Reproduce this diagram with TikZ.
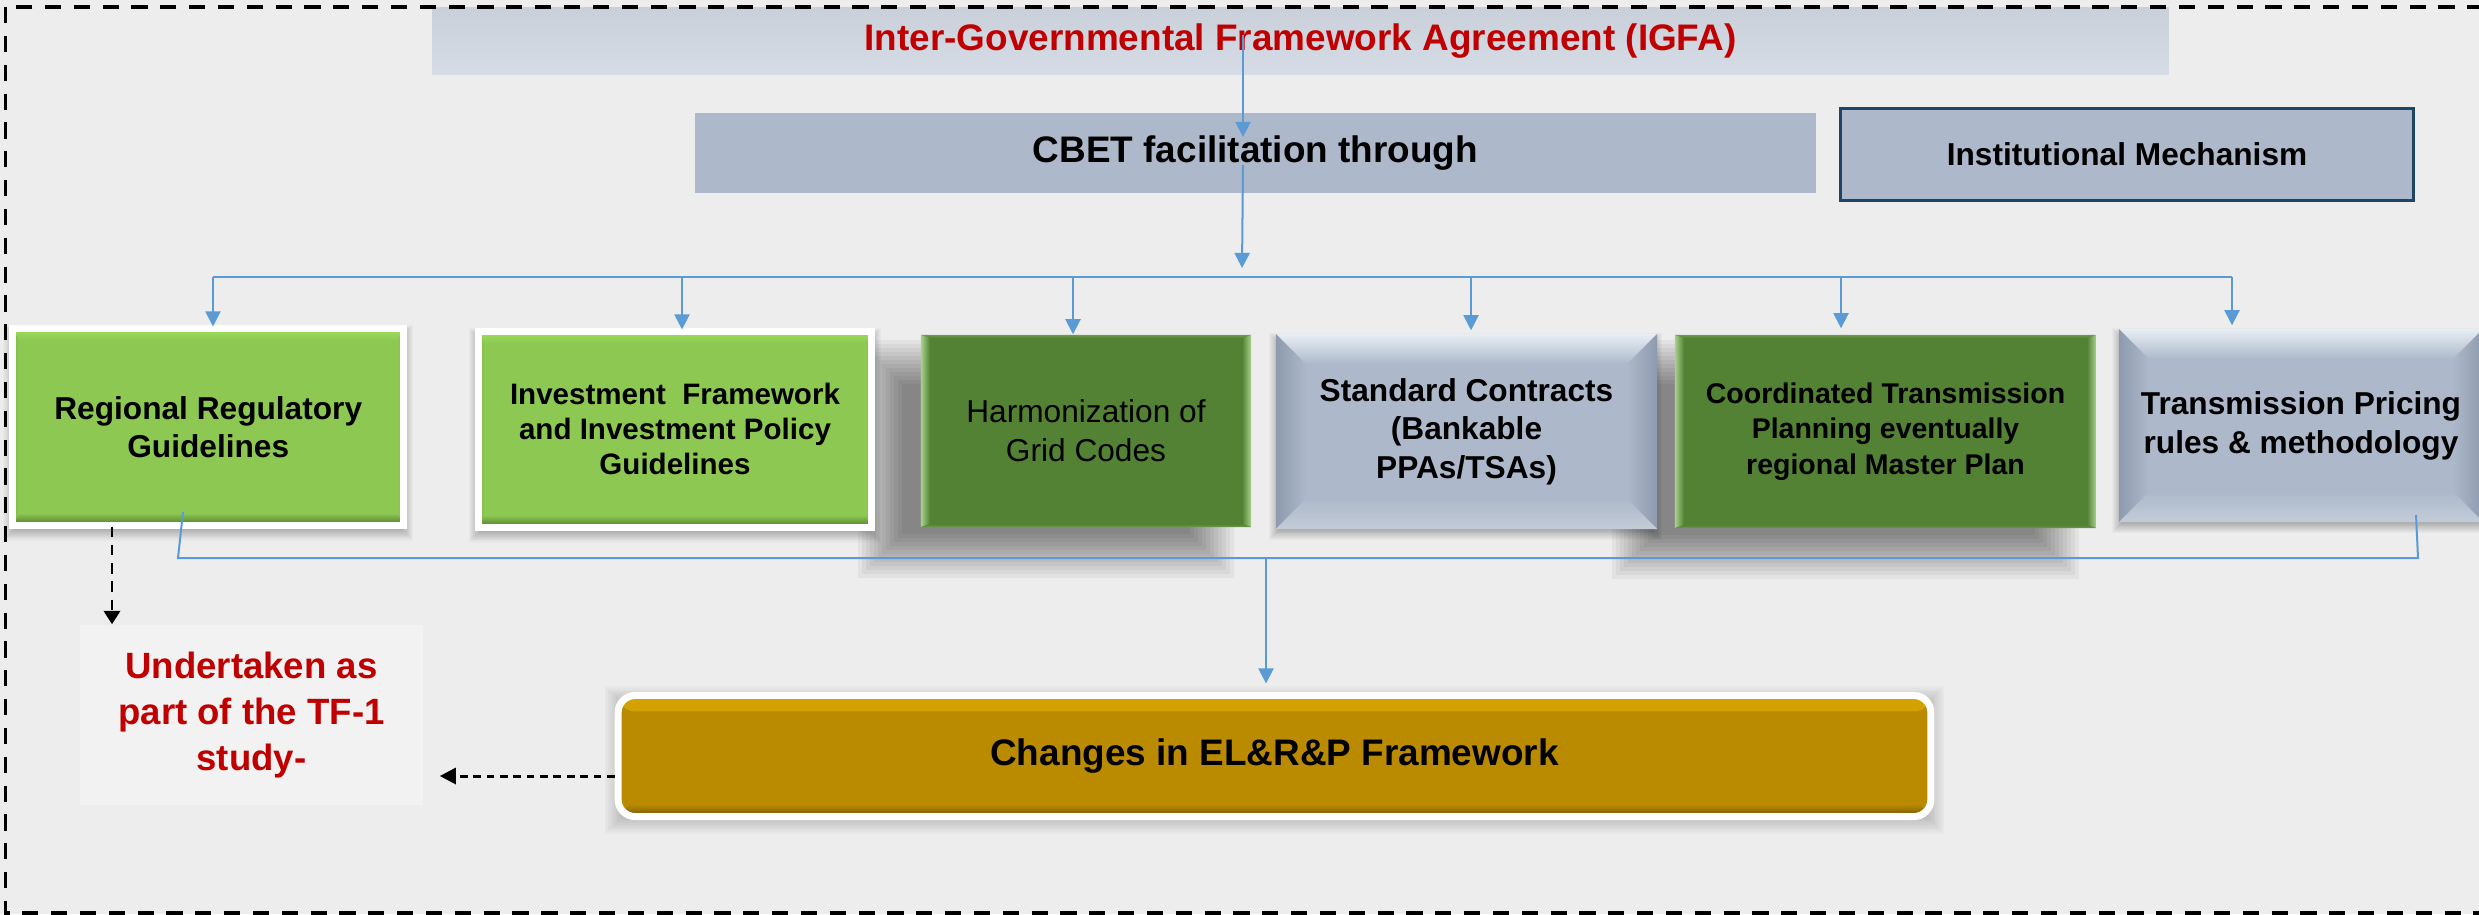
\documentclass[tikz,border=0pt]{standalone}
\usepackage{fontspec}
\setmainfont{Liberation Sans}
\usetikzlibrary{arrows.meta,calc}
\pgfdeclarelayer{bottom}
\pgfdeclarelayer{shadow}
\pgfsetlayers{bottom,shadow,main}
\definecolor{bg}{HTML}{EDEDED}
\definecolor{igfa}{HTML}{D6DCE5}
\definecolor{igfatop}{HTML}{C9D0DA}
\definecolor{slate}{HTML}{ADB9CA}
\definecolor{slatehi}{HTML}{E9EEF5}
\definecolor{slatelo}{HTML}{8E9AAD}
\definecolor{slatebot}{HTML}{C3CCD9}
\definecolor{instb}{HTML}{1F4467}
\definecolor{lgreen}{HTML}{8DC853}
\definecolor{lgreenhi}{HTML}{9CE05A}
\definecolor{lgreenlo}{HTML}{4F7A2C}
\definecolor{lgreenside}{HTML}{7DB446}
\definecolor{dgreen}{HTML}{548235}
\definecolor{dgreenhi}{HTML}{A9D18E}
\definecolor{gold}{HTML}{BA8B00}
\definecolor{goldhi}{HTML}{D6A400}
\definecolor{goldlo}{HTML}{6F5200}
\definecolor{utbg}{HTML}{F2F2F2}
\definecolor{redt}{HTML}{C00000}
\definecolor{blu}{HTML}{5B9BD5}
% #1 top/bottom depth, #2 side depth, #3 top, #4 bottom, #5 left, #6 right, #7 base
\newcommand\mybevel[7]{%
  \path (path picture bounding box.north west) coordinate (@nw)
        (path picture bounding box.north east) coordinate (@ne)
        (path picture bounding box.south west) coordinate (@sw)
        (path picture bounding box.south east) coordinate (@se);
  \shade[top color=#3, bottom color=#7] (@nw) -- (@ne) -- ([shift={(-#2,-#1)}]@ne) -- ([shift={(#2,-#1)}]@nw) -- cycle;
  \shade[left color=#5, right color=#7] (@nw) -- ([shift={(#2,-#1)}]@nw) -- ([shift={(#2,#1)}]@sw) -- (@sw) -- cycle;
  \shade[left color=#7, right color=#6] (@ne) -- (@se) -- ([shift={(-#2,#1)}]@se) -- ([shift={(-#2,-#1)}]@ne) -- cycle;
  \shade[top color=#7, bottom color=#4] (@sw) -- ([shift={(#2,#1)}]@sw) -- ([shift={(-#2,#1)}]@se) -- (@se) -- cycle;
}
% soft shadow: #1 node, #2 xshift cm, #3 yshift cm (canvas, up positive), #4 spread cm, #5 layer opacity
\newcommand\softshadow[5]{%
  \begin{pgfonlayer}{shadow}
  \foreach \k in {0,...,11}{
    \fill[black, opacity=#5]
      ([shift={({(#2-#4+\k*#4*2/11)*1cm},{(#3+#4-\k*#4*2/11)*1cm})}]#1.north west)
      rectangle
      ([shift={({(#2+#4-\k*#4*2/11)*1cm},{(#3-#4+\k*#4*2/11)*1cm})}]#1.south east);
  }
  \end{pgfonlayer}}
\tikzset{
  box/.style={inner sep=0pt, align=center, font=\fontsize{9}{10.8}\selectfont\bfseries},
  bigtext/.style={inner sep=0pt, align=center, font=\fontsize{10.5}{12.6}\selectfont\bfseries},
  greenbox/.style={box, fill=lgreen, draw=white, line width=0.07cm,
    path picture={\mybevel{0.12cm}{0.06cm}{lgreenhi}{lgreenlo}{lgreenside}{lgreenside}{lgreen}}},
  darkbox/.style={box, fill=dgreen,
    path picture={\mybevel{0.03cm}{0.09cm}{dgreen!70!dgreenhi}{dgreen!70!dgreenhi}{dgreenhi}{dgreenhi}{dgreen}}},
  slatebox/.style={box, fill=slate,
    path picture={\mybevel{0.3cm}{0.3cm}{slatehi}{slatebot}{slatelo}{slatelo}{slate}}},
  goldbox/.style={bigtext, fill=gold, draw=white, line width=0.07cm, rounded corners=0.17cm,
    path picture={
      \shade[top color=goldhi, bottom color=gold] (path picture bounding box.north west) rectangle ([yshift=-0.16cm]path picture bounding box.north east);
      \shade[top color=gold, bottom color=goldlo] ([yshift=0.12cm]path picture bounding box.south west) rectangle (path picture bounding box.south east);
    }},
  bl/.style={draw=blu, line width=0.57pt},
  blarrow/.style={bl, -{Triangle[width=4.3pt,length=4.3pt]}},
  dshv/.style={draw=black, line width=0.85pt, dash pattern=on 3pt off 2.2pt, -{Triangle[width=4.6pt,length=3.8pt]}},
  dshh/.style={draw=black, line width=0.85pt, dash pattern=on 2.2pt off 1.6pt, -{Triangle[width=4.6pt,length=4.6pt]}},
  frame/.style={draw=black, line width=1.1pt, dash pattern=on 4.6pt off 3.6pt},
}
\begin{document}
\begin{tikzpicture}[x=0.01cm, y=-0.01cm]
\useasboundingbox (0,0) rectangle (2479,914);
\begin{pgfonlayer}{bottom}
\fill[bg] (0,0) rectangle (2479,914);
\end{pgfonlayer}

% top boxes
\node[bigtext, minimum width=17.35cm, minimum height=0.66cm, top color=igfatop, bottom color=igfa, text=redt] (igfa) at (1300.5,41) {Inter-Governmental Framework Agreement (IGFA)};
\node[bigtext, minimum width=11.21cm, minimum height=0.80cm, fill=slate] (cbet) at (1255.5,153) {CBET facilitation through};
\node[box, minimum width=5.72cm, minimum height=0.91cm, fill=slate, draw=instb, line width=0.03cm] (inst) at (2127,154.5) {Institutional Mechanism};

% row of boxes
\node[greenbox, minimum width=3.905cm, minimum height=1.965cm] (rrg) at (208.25,426.75) {Regional Regulatory\\Guidelines};
\node[greenbox, minimum width=3.93cm, minimum height=1.955cm, font=\fontsize{8.4}{10}\selectfont\bfseries] (ifp) at (675,429.25) {Investment~ Framework\\and Investment Policy\\Guidelines};
\node[darkbox, minimum width=3.30cm, minimum height=1.92cm, font=\fontsize{9}{11.1}\selectfont] (hgc) at (1086,431) {Harmonization of\\Grid Codes};
\node[slatebox, minimum width=3.81cm, minimum height=1.95cm, font=\fontsize{9}{11}\selectfont\bfseries] (sc) at (1466.5,431.5) {Standard Contracts\\(Bankable\\PPAs/TSAs)};
\node[darkbox, minimum width=4.21cm, minimum height=1.93cm, font=\fontsize{8.1}{10.1}\selectfont\bfseries] (ctp) at (1885.5,431.5) {Coordinated Transmission\\Planning eventually\\regional Master Plan};
\node[slatebox, minimum width=3.64cm, minimum height=1.93cm, font=\fontsize{9}{11.1}\selectfont\bfseries] (tp) at (2301,425.5) {Transmission Pricing\\rules \& methodology};

% bottom
\node[inner sep=0pt, align=center, fill=utbg, text=redt, minimum width=3.43cm, minimum height=1.80cm, font=\fontsize{10.4}{13}\selectfont\bfseries] (ut) at (251.5,715) {Undertaken as\\part of the TF-1\\study-};
\node[goldbox, minimum width=13.12cm, minimum height=1.21cm] (chg) at (1274.5,756) {Changes in EL\&R\&P Framework};

% shadows
\softshadow{rrg}{0}{-0.06}{0.06}{0.022}
\softshadow{ifp}{0}{-0.06}{0.06}{0.022}
\softshadow{hgc}{-0.4}{-0.28}{0.22}{0.045}
\softshadow{ctp}{-0.4}{-0.28}{0.22}{0.045}
\softshadow{sc}{-0.01}{-0.05}{0.05}{0.022}
\softshadow{tp}{-0.01}{-0.05}{0.05}{0.022}
\softshadow{chg}{0}{-0.04}{0.1}{0.018}

% blue connectors
\coordinate (t0) at (1243,35);
\coordinate (t1) at (1243,137);
\coordinate (t2) at (1243,165);
\coordinate (t3) at (1242,268);
\draw[blarrow] (t0) -- (t1);
\draw[blarrow] (t2) -- (t3);

\coordinate (d1) at (213,277);
\coordinate (d2) at (682,277);
\coordinate (d3) at (1073,277);
\coordinate (d4) at (1471,277);
\coordinate (d5) at (1841,277);
\coordinate (d6) at (2232,277);
\draw[bl] (d1) -- (d6);
\draw[blarrow] (d1) -- ([yshift=-0.015cm]d1 |- rrg.north);
\draw[blarrow] (d2) -- ([yshift=-0.015cm]d2 |- ifp.north);
\draw[blarrow] (d3) -- (d3 |- hgc.north);
\draw[blarrow] (d4) -- ([yshift=0.03cm]d4 |- sc.north);
\draw[blarrow] (d5) -- ([yshift=0.06cm]d5 |- ctp.north);
\draw[blarrow] (d6) -- ([yshift=0.03cm]d6 |- tp.north);

\coordinate (c0) at (183,512);
\coordinate (c1) at (178,558);
\coordinate (c2) at (2418,558);
\coordinate (c3) at (2416,515);
\coordinate (c4) at (1266,558);
\draw[bl] (c0) -- (c1) -- (c2) -- (c3);
\draw[blarrow, shorten >=0.085cm] (c4) -- (c4 |- chg.north);

% dashed black connectors
\coordinate (dx) at (112,0);
\draw[dshv] ([yshift=0.02cm]rrg.south -| dx) -- (ut.north -| dx);
\coordinate (dy) at (0,776);
\coordinate (utE) at ([xshift=0.16cm]ut.east);
\draw[dshh] (chg.west |- dy) -- (utE |- dy);

% outer frame
\draw[frame] (5.5,7) rectangle (2530,913);
\end{tikzpicture}
\end{document}
